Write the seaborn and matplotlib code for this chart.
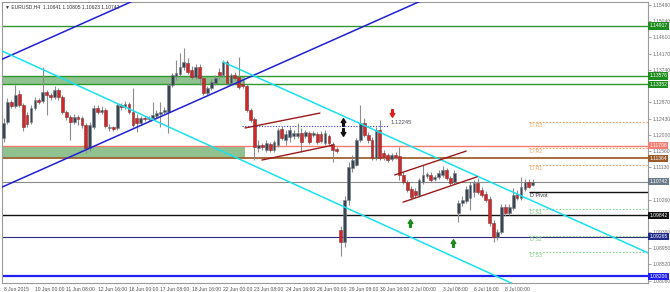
import matplotlib
matplotlib.use("Agg")
import matplotlib.pyplot as plt
import matplotlib.transforms as mtransforms
from matplotlib.path import Path
import numpy as np
import pandas as pd
import seaborn as sns

# ---------------- data ----------------
title = "\u25bc EURUSD,H4  1.10641 1.10805 1.10623 1.10742"

opens = [1.1191, 1.1234, 1.1288, 1.1277, 1.1309, 1.1280, 1.1253, 1.1234, 1.1272, 1.1293,
         1.1290, 1.1315, 1.1307, 1.1301, 1.1320, 1.1301, 1.1261, 1.1247, 1.1234, 1.1247,
         1.1245, 1.1226, 1.1164, 1.1221, 1.1272, 1.1261, 1.1266, 1.1218, 1.1221, 1.1218,
         1.1280, 1.1274, 1.1282, 1.1261, 1.1245, 1.1231, 1.1245, 1.1242, 1.1245, 1.1250,
         1.1256, 1.1261, 1.1261, 1.1333, 1.1358, 1.1363, 1.1382, 1.1392, 1.1374, 1.1355,
         1.1382, 1.1352, 1.1312, 1.1325, 1.1339, 1.1368, 1.1360, 1.1395, 1.1339, 1.1360,
         1.1355, 1.1336, 1.1331, 1.1266, 1.1242, 1.1164, 1.1172, 1.1159, 1.1175, 1.1159,
         1.1172, 1.1215, 1.1186, 1.1194, 1.1197, 1.1197, 1.1205, 1.1197, 1.1205, 1.1199,
         1.1202, 1.1202, 1.1178, 1.1197, 1.1175, 1.1162, 1.0944, 1.0912, 1.1025, 1.1111,
         1.1119, 1.1186, 1.1231, 1.1199, 1.1186, 1.1138, 1.1213, 1.1151, 1.1146, 1.1135,
         1.1146, 1.1143, 1.1092, 1.1073, 1.1054, 1.1049, 1.1038, 1.1073, 1.1089, 1.1092,
         1.1081, 1.1086, 1.1092, 1.1105, 1.1084, 1.1073, 1.0990, 1.1017, 1.1022, 1.1030,
         1.1046, 1.1070, 1.1052, 1.1041, 1.1028, 1.0963, 1.0926, 1.0939, 1.1006, 1.0990,
         1.1003, 1.1041, 1.1030, 1.1054, 1.1073, 1.10641]
closes = [1.1231, 1.1288, 1.1277, 1.1307, 1.1280, 1.1221, 1.1229, 1.1272, 1.1293, 1.1288,
          1.1315, 1.1307, 1.1301, 1.1320, 1.1301, 1.1261, 1.1247, 1.1234, 1.1247, 1.1242,
          1.1226, 1.1164, 1.1226, 1.1272, 1.1261, 1.1266, 1.1223, 1.1221, 1.1215, 1.1280,
          1.1274, 1.1282, 1.1261, 1.1226, 1.1231, 1.1245, 1.1242, 1.1245, 1.1253, 1.1258,
          1.1261, 1.1266, 1.1333, 1.1360, 1.1366, 1.1382, 1.1395, 1.1368, 1.1355, 1.1382,
          1.1352, 1.1312, 1.1325, 1.1341, 1.1352, 1.1360, 1.1395, 1.1339, 1.1360, 1.1352,
          1.1328, 1.1331, 1.1266, 1.1239, 1.1167, 1.1172, 1.1167, 1.1178, 1.1159, 1.1180,
          1.1213, 1.1191, 1.1202, 1.1213, 1.1205, 1.1205, 1.1180, 1.1207, 1.1180, 1.1205,
          1.1180, 1.1183, 1.1205, 1.1178, 1.1159, 1.1156, 1.0912, 1.1025, 1.1113, 1.1132,
          1.1186, 1.1231, 1.1199, 1.1186, 1.1138, 1.1213, 1.1138, 1.1140, 1.1132, 1.1146,
          1.1140, 1.1092, 1.1073, 1.1052, 1.1033, 1.1038, 1.1078, 1.1092, 1.1095, 1.1078,
          1.1086, 1.1097, 1.1105, 1.1084, 1.1070, 1.1097, 1.1017, 1.1025, 1.1054, 1.1065,
          1.1070, 1.1046, 1.1038, 1.1025, 1.0963, 1.0926, 1.0939, 1.1006, 1.0990, 1.1006,
          1.1038, 1.1030, 1.1060, 1.1073, 1.1060, 1.10742]
highs = [1.1245, 1.1299, 1.1293, 1.1333, 1.1320, 1.1285, 1.1261, 1.1280, 1.1301, 1.1299,
         1.1382, 1.1320, 1.1312, 1.1331, 1.1325, 1.1307, 1.1266, 1.1253, 1.1256, 1.1253,
         1.1250, 1.1231, 1.1234, 1.1280, 1.1280, 1.1277, 1.1272, 1.1229, 1.1223, 1.1285,
         1.1285, 1.1290, 1.1288, 1.1325, 1.1256, 1.1250, 1.1250, 1.1250, 1.1288, 1.1266,
         1.1288, 1.1274, 1.1339, 1.1366, 1.1400, 1.1419, 1.1433, 1.1406, 1.1384, 1.1390,
         1.1390, 1.1358, 1.1331, 1.1350, 1.1360, 1.1379, 1.1400, 1.1400, 1.1366, 1.1368,
         1.1408, 1.1347, 1.1336, 1.1272, 1.1247, 1.1186, 1.1178, 1.1186, 1.1180, 1.1186,
         1.1218, 1.1223, 1.1213, 1.1221, 1.1213, 1.1231, 1.1218, 1.1213, 1.1210, 1.1210,
         1.1207, 1.1210, 1.1213, 1.1202, 1.1180, 1.1167, 1.0955, 1.1036, 1.1127, 1.1146,
         1.1191, 1.1280, 1.1245, 1.1207, 1.1194, 1.1221, 1.1239, 1.1159, 1.1151, 1.1151,
         1.1154, 1.1167, 1.1100, 1.1078, 1.1062, 1.1057, 1.1084, 1.1119, 1.1100, 1.1100,
         1.1092, 1.1105, 1.1116, 1.1111, 1.1089, 1.1105, 1.1025, 1.1036, 1.1062, 1.1073,
         1.1078, 1.1084, 1.1060, 1.1049, 1.1036, 1.0971, 1.0947, 1.1014, 1.1014, 1.1014,
         1.1057, 1.1052, 1.1086, 1.1081, 1.1081, 1.10805]
lows = [1.1180, 1.1229, 1.1272, 1.1272, 1.1274, 1.1210, 1.1221, 1.1229, 1.1266, 1.1282,
        1.1285, 1.1253, 1.1293, 1.1296, 1.1293, 1.1256, 1.1239, 1.1186, 1.1229, 1.1226,
        1.1218, 1.1151, 1.1156, 1.1215, 1.1256, 1.1256, 1.1218, 1.1210, 1.1210, 1.1213,
        1.1266, 1.1269, 1.1256, 1.1221, 1.1207, 1.1226, 1.1237, 1.1237, 1.1239, 1.1245,
        1.1221, 1.1256, 1.1205, 1.1328, 1.1347, 1.1358, 1.1374, 1.1363, 1.1350, 1.1350,
        1.1333, 1.1307, 1.1307, 1.1320, 1.1333, 1.1350, 1.1355, 1.1333, 1.1333, 1.1347,
        1.1323, 1.1325, 1.1261, 1.1234, 1.1132, 1.1154, 1.1159, 1.1154, 1.1154, 1.1154,
        1.1167, 1.1186, 1.1172, 1.1180, 1.1189, 1.1191, 1.1154, 1.1191, 1.1175, 1.1194,
        1.1175, 1.1178, 1.1172, 1.1172, 1.1127, 1.1151, 1.0875, 1.0899, 1.1011, 1.1100,
        1.1116, 1.1180, 1.1194, 1.1178, 1.1132, 1.1132, 1.1132, 1.1132, 1.1127, 1.1129,
        1.1135, 1.1078, 1.1068, 1.1046, 1.1025, 1.1030, 1.1033, 1.1068, 1.1084, 1.1073,
        1.1076, 1.1081, 1.1086, 1.1078, 1.1065, 1.1068, 1.0966, 1.1009, 1.1017, 1.0998,
        1.1033, 1.1041, 1.1033, 1.1019, 1.0955, 1.0912, 1.0917, 1.0934, 1.0982, 1.0985,
        1.0998, 1.1025, 1.1025, 1.1049, 1.1057, 1.10623]

xtick_pos = [0, 8, 16, 24, 32, 40, 48, 56, 64, 72, 80, 88, 96, 104, 112, 120, 128]
xtick_labels = ["8 Jun 2015", "10 Jun 00:00", "11 Jun 08:00", "12 Jun 16:00", "16 Jun 00:00",
                "17 Jun 08:00", "18 Jun 16:00", "22 Jun 00:00", "23 Jun 08:00", "24 Jun 16:00",
                "26 Jun 00:00", "29 Jun 08:00", "30 Jun 16:00", "2 Jul 00:00", "3 Jul 08:00",
                "6 Jul 16:00", "8 Jul 00:00"]
ytick_vals = [1.15480, 1.15040, 1.14610, 1.14170, 1.13740, 1.13300, 1.12870, 1.12430, 1.12000,
              1.11560, 1.11130, 1.10690, 1.10260, 1.09820, 1.09380, 1.08950, 1.08520, 1.08080]
# tick labels that sit under a highlighted price box in the reference
ytick_hidden = [1.13300, 1.10690, 1.09820]

level_vals = [1.14917, 1.13576, 1.13352, 1.11706, 1.11364, 1.10742, 1.09842, 1.09265, 1.08206]
level_colors = ["#2e9a2e", "#2e9a2e", "#2e9a2e", "#f27b6e", "#a0622f", "#8a8a8a", "#111111", "#2b2b80", "#1f1ff0"]
level_widths = [1.0, 1.0, 1.0, 1.0, 1.3, 0.8, 1.0, 0.8, 1.6]
label_colors = ["#1c8c1c", "#1c8c1c", "#1c8c1c", "#f47c70", "#9a5a2a", "#6c7b8a", "#111111", "#1f2a8a", "#1e1ef0"]

zone_lo = [1.13352, 1.11364]
zone_hi = [1.13576, 1.11706]
zone_end = 61.6

pivot_names = ["D R3", "D R2", "D R1", "D Pivot", "D S1", "D S2", "D S3"]
pivot_vals = [1.1234, 1.1164, 1.1119, 1.1046, 1.1001, 1.0928, 1.0885]
pivot_start = 134.1

# trend lines: start bar, start price, end bar, end price
tl_x0 = [-0.9, -0.9, -0.9, 56.0, 61.6, 65.9, 99.8, 101.9]
tl_p0 = [1.1400, 1.1057, 1.1427, 1.1395, 1.1218, 1.1132, 1.1092, 1.1019]
tl_x1 = [35.0, 108.0, 131.0, 164.4, 80.7, 84.0, 118.0, 120.8]
tl_p1 = [1.1568, 1.1566, 1.0795, 1.0883, 1.1258, 1.1172, 1.1156, 1.1087]
tl_colors = ["#1f1fd8", "#1f1fd8", "#19e0f0", "#19e0f0", "#9a1a1a", "#9a1a1a", "#9a1a1a", "#9a1a1a"]

marker_level = 1.12245
marker_from, marker_to = 60.8, 98.0

arrow_k = [86.6, 86.6, 99.1, 103.7, 114.6]
arrow_p = [1.1234, 1.1207, 1.1258, 1.0963, 1.0909]
arrow_dir = ["up", "down", "down", "up", "up"]
arrow_col = ["#111111", "#111111", "#e02020", "#1a8a1a", "#1a8a1a"]

# ---------------- figure ----------------
sns.set_style("white")
plt.rcParams["font.family"] = ["Liberation Sans Narrow", "Liberation Sans", "DejaVu Sans"]
FS = 3.6

fig = plt.figure(figsize=(6.7, 2.92), dpi=100)
ax = fig.add_axes([2 / 670, 9 / 292, 646 / 670, 281 / 292])
ax.set_xlim(-0.4, 164.4)
ax.set_ylim(1.08021, 1.15560)

# zones
for lo, hi in zip(zone_lo, zone_hi):
    ax.fill_between([-1, zone_end], [lo, lo], [hi, hi], color="#8fc28f", lw=0, zorder=1)

# horizontal levels
for v, c, w in zip(level_vals, level_colors, level_widths):
    ax.axhline(v, color=c, lw=w, zorder=2)

# pivot levels
for name, v in zip(pivot_names, pivot_vals):
    kind = name.split()[1][0]
    if kind == "R":
        col, ls, tcol, lw = "#f5a35a", (0, (1.5, 1.5)), "#f5a35a", 0.8
    elif kind == "S":
        col, ls, tcol, lw = "#8fd88f", (0, (1.5, 1.5)), "#7cc87c", 0.8
    else:
        col, ls, tcol, lw = "#111111", "-", "#333333", 1.0
    ax.hlines(v, pivot_start, 170, colors=col, linestyles=ls, lw=lw, zorder=2)
    ax.text(pivot_start + 0.3, v - 0.0003, name, fontsize=FS + 0.3, color=tcol, va="top", ha="left", zorder=6)

# dotted marker line
ax.hlines(marker_level, marker_from, marker_to, colors="#3535f0", linestyles=(0, (1, 1.5)), lw=0.8, zorder=2)
ax.text(marker_to + 0.8, marker_level + 0.00005, f"{marker_level:.5f}", fontsize=FS + 0.6, color="#505060",
        va="bottom", ha="left", zorder=6)

# trend lines
for x0, p0, x1, p1, c in zip(tl_x0, tl_p0, tl_x1, tl_p1, tl_colors):
    lw = 1.1 if c != "#9a1a1a" else 1.0
    sns.lineplot(x=[x0, x1], y=[p0, p1], ax=ax, color=c, lw=lw, sort=False, legend=False,
                 estimator=None, zorder=5)

# candles
df = pd.DataFrame({"o": opens, "h": highs, "l": lows, "c": closes})
df["k"] = np.arange(len(df))
bull = df["c"] >= df["o"]
ax.vlines(df["k"], df["l"], df["h"], color="#8c8c8c", lw=0.8, zorder=3)
hb = np.maximum((df["c"] - df["o"]).abs(), 0.00009)
bot = np.minimum(df["o"], df["c"])
ax.bar(df["k"][bull], hb[bull], bottom=bot[bull], width=0.72, color="#3a4551",
       edgecolor="#7a838c", lw=0.4, zorder=4)
ax.bar(df["k"][~bull], hb[~bull], bottom=bot[~bull], width=0.72, color="#d3262b",
       edgecolor="#7e3535", lw=0.4, zorder=4)

# arrows
up_path = Path([(-0.22, -1), (0.22, -1), (0.22, 0), (0.6, 0), (0, 1), (-0.6, 0), (-0.22, 0), (-0.22, -1)],
               [Path.MOVETO] + [Path.LINETO] * 6 + [Path.CLOSEPOLY])
down_path = Path([(x, -y) for x, y in up_path.vertices], up_path.codes)
for k, p, d, c in zip(arrow_k, arrow_p, arrow_dir, arrow_col):
    ax.plot([k], [p], marker=up_path if d == "up" else down_path, markersize=5.5, color=c, lw=0, zorder=7)

# axes styling
for s in ax.spines.values():
    s.set_color("#9a9a9a")
    s.set_linewidth(0.8)
ax.yaxis.tick_right()
ax.set_yticks(ytick_vals)
ax.set_yticklabels(["" if v in ytick_hidden else f"{v:.5f}" for v in ytick_vals],
                   fontsize=FS, color="#6e6e6e")
ax.tick_params(axis="y", length=2, width=0.6, pad=1.2, color="#9a9a9a")
ax.set_xticks(xtick_pos)
ax.set_xticklabels(xtick_labels, fontsize=FS, color="#505050", ha="left")
ax.tick_params(axis="x", length=2, width=0.6, pad=1, color="#9a9a9a")
ax.set_xlabel("")
ax.set_ylabel("")

# highlighted price labels
trans = mtransforms.blended_transform_factory(ax.transAxes, ax.transData)
for v, c in zip(level_vals, label_colors):
    ax.text(1.002, v, f"{v:.5f}", transform=trans, fontsize=FS, color="white", va="center", ha="left",
            clip_on=False, zorder=10,
            bbox=dict(boxstyle="square,pad=0.22", fc=c, ec="none"))

ax.text(0.004, 0.992, title, transform=ax.transAxes, fontsize=FS, color="#333333", va="top", ha="left",
        zorder=10)

fig.savefig("out.png", dpi=100)
